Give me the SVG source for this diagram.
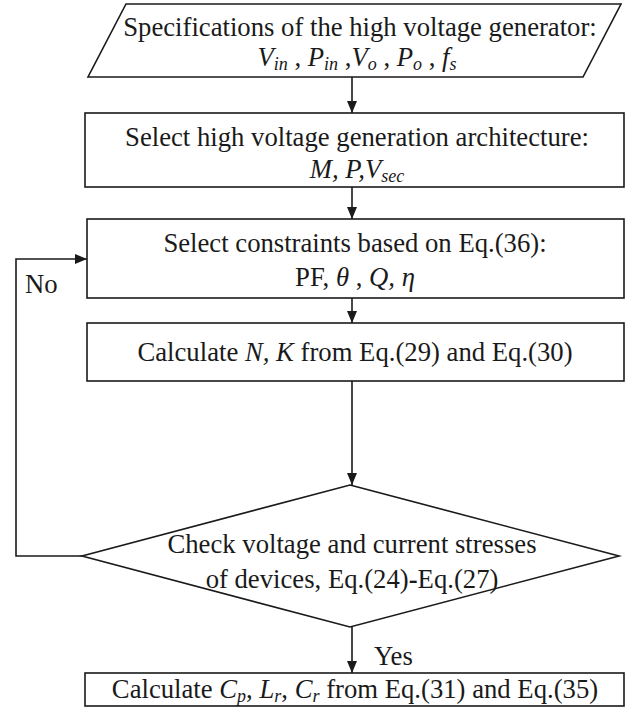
<svg xmlns="http://www.w3.org/2000/svg" width="633" height="715" viewBox="0 0 633 715">
<defs>
<marker id="arr" viewBox="0 0 12 10" refX="12" refY="5" markerWidth="12" markerHeight="10" markerUnits="userSpaceOnUse" orient="auto">
<path d="M0,0 L12,5 L0,10 Z" fill="#1a1a1a"/>
</marker>
<style>
.s{fill:#fff;stroke:#1a1a1a;stroke-width:1.6}
.c{fill:none;stroke:#1a1a1a;stroke-width:1.6}
.t{font-family:'Liberation Serif','DejaVu Serif',serif;font-size:26.7px;fill:#1a1a1a}
.m{text-anchor:middle}
.i{font-style:italic}
.sub{font-size:18px;font-style:italic}
</style>
</defs>
<rect width="633" height="715" fill="#fff"/>
<g id="connectors">
<line class="c" x1="352" y1="77" x2="352" y2="113" marker-end="url(#arr)"/>
<line class="c" x1="352" y1="187" x2="352" y2="219" marker-end="url(#arr)"/>
<line class="c" x1="352" y1="298" x2="352" y2="323" marker-end="url(#arr)"/>
<line class="c" x1="352" y1="381" x2="352" y2="485" marker-end="url(#arr)"/>
<line class="c" x1="352" y1="627" x2="352" y2="673" marker-end="url(#arr)"/>
<polyline class="c" points="82,556 16,556 16,259 87,259" marker-end="url(#arr)"/>
<text class="t" x="25" y="293">No</text>
<text class="t" x="374" y="665">Yes</text>
</g>
<g id="spec">
<polygon class="s" points="126,4 621,4 583,77 88,77"/>
<text class="t m" x="360" y="36">Specifications of the high voltage generator:</text>
<text class="t m" x="357" y="66"><tspan class="i">V</tspan><tspan class="sub" dy="4">in</tspan><tspan dy="-4"> , </tspan><tspan class="i">P</tspan><tspan class="sub" dy="4">in</tspan><tspan dy="-4"> ,</tspan><tspan class="i">V</tspan><tspan class="sub" dy="4">o</tspan><tspan dy="-4"> , </tspan><tspan class="i">P</tspan><tspan class="sub" dy="4">o</tspan><tspan dy="-4"> , </tspan><tspan class="i">f</tspan><tspan class="sub" dy="4">s</tspan></text>
</g>
<g id="arch">
<rect class="s" x="85" y="113" width="539" height="74"/>
<text class="t m" x="357" y="146">Select high voltage generation architecture:</text>
<text class="t m" x="357" y="178"><tspan class="i">M, P,V</tspan><tspan class="sub" dy="4">sec</tspan></text>
</g>
<g id="constraints">
<rect class="s" x="87" y="219" width="537" height="79"/>
<text class="t m" x="355" y="252">Select constraints based on Eq.(36):</text>
<text class="t m" x="355" y="286">PF, <tspan class="i">θ</tspan> , <tspan class="i">Q,</tspan>  <tspan class="i">η</tspan></text>
</g>
<g id="calcNK">
<rect class="s" x="87" y="323" width="537" height="58"/>
<text class="t m" x="355" y="361">Calculate <tspan class="i">N, K</tspan> from Eq.(29) and Eq.(30)</text>
</g>
<g id="check">
<polygon class="s" points="350,485 619,556 350,627 82,556"/>
<text class="t m" x="352" y="553">Check voltage and current stresses</text>
<text class="t m" x="352" y="588">of devices, Eq.(24)<tspan font-weight="bold">-</tspan>Eq.(27)</text>
</g>
<g id="calcCL">
<rect class="s" x="85" y="673" width="539" height="33"/>
<text class="t m" x="355" y="698">Calculate <tspan class="i">C</tspan><tspan class="sub" dy="4">p</tspan><tspan dy="-4">, </tspan><tspan class="i">L</tspan><tspan class="sub" dy="4">r</tspan><tspan dy="-4">, </tspan><tspan class="i">C</tspan><tspan class="sub" dy="4">r</tspan><tspan dy="-4"> from Eq.(31) and Eq.(35)</tspan></text>
</g>
</svg>
